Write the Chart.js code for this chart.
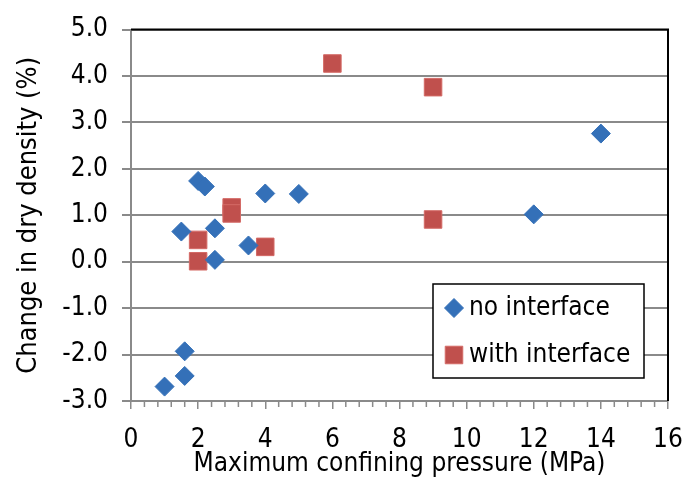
<!DOCTYPE html>
<html>
<head>
<meta charset="utf-8">
<script src="https://cdn.jsdelivr.net/npm/chart.js@4"></script>
<style>
  html, body { margin: 0; padding: 0; background: #fff; }
  #wrap { width: 699px; height: 480px; }
</style>
</head>
<body>
<div id="wrap"><canvas id="densityChart"></canvas></div>
<script>
// ---------------- DATA ----------------
const seriesNames = ["no interface", "with interface"];

const noInterfaceX = [1, 1.6, 1.6, 1.5, 2, 2.2, 2.5, 2.5, 3.5, 4, 5, 12, 14];
const noInterfaceY = [-2.69, -2.46, -1.93, 0.65, 1.74, 1.62, 0.72, 0.04, 0.35, 1.47, 1.46, 1.02, 2.76];

const withInterfaceX = [2, 2, 3, 3, 4, 6, 9, 9];
const withInterfaceY = [0.47, 0.01, 1.17, 1.04, 0.32, 4.27, 3.76, 0.91];

const xTicks = [0, 2, 4, 6, 8, 10, 12, 14, 16];
const yTicks = [-3, -2, -1, 0, 1, 2, 3, 4, 5];

const FONT = "'DejaVu Sans Condensed', 'DejaVu Sans', sans-serif";
const GRID = "#8a8a8a";

function toPoints(xs, ys) {
    return xs.map((x, i) => ({ x: x, y: ys[i] }));
}

// ---------------- FRAME, MINOR TICKS, LEGEND ----------------
const framePlugin = {
    id: "frame",
    afterDraw(chart) {
        const ctx = chart.ctx;
        const a = chart.chartArea;
        const xs = chart.scales.x;

        // minor ticks on x axis every 0.4
        ctx.save();
        ctx.strokeStyle = GRID;
        ctx.lineWidth = 1.5;
        for (let i = 0; i <= 40; i++) {
            if (i % 5 === 0) continue;
            const px = xs.getPixelForValue(i * 0.4);
            ctx.beginPath();
            ctx.moveTo(px, a.bottom);
            ctx.lineTo(px, a.bottom + 6);
            ctx.stroke();
        }

        // black top and right border
        ctx.strokeStyle = "#000";
        ctx.lineWidth = 2;
        ctx.beginPath();
        ctx.moveTo(a.left, a.top);
        ctx.lineTo(a.right, a.top);
        ctx.lineTo(a.right, a.bottom);
        ctx.stroke();

        // legend box
        const bx = a.right - 235, by = a.bottom - 117, bw = 211, bh = 94;
        ctx.fillStyle = "#fff";
        ctx.fillRect(bx, by, bw, bh);
        ctx.strokeStyle = "#000";
        ctx.lineWidth = 1.5;
        ctx.strokeRect(bx, by, bw, bh);

        ctx.font = "26px " + FONT;
        ctx.textBaseline = "middle";
        chart.data.datasets.forEach((ds, i) => {
            const cy = by + 24 + i * 47;
            ctx.fillStyle = ds.backgroundColor;
            ctx.strokeStyle = ds.borderColor;
            ctx.lineWidth = 1;
            Chart.helpers.drawPoint(ctx, {
                pointStyle: ds.pointStyle,
                radius: ds.pointRadius,
                borderWidth: 1,
                rotation: 0
            }, bx + 21, cy);
            ctx.fillStyle = "#000";
            ctx.fillText(ds.label, bx + 36, cy);
        });
        ctx.restore();
    }
};

// ---------------- DRAW CHART ----------------
new Chart(document.getElementById("densityChart"), {
    type: "scatter",
    data: {
        datasets: [
            {
                label: seriesNames[0],
                data: toPoints(noInterfaceX, noInterfaceY),
                pointStyle: "rectRot",
                pointRadius: 9.5,
                backgroundColor: "#3470b8",
                borderColor: "#3470b8",
                borderWidth: 1
            },
            {
                label: seriesNames[1],
                data: toPoints(withInterfaceX, withInterfaceY),
                pointStyle: "rect",
                pointRadius: 12.4,
                backgroundColor: "#c0504d",
                borderColor: "#d46a66",
                borderWidth: 1
            }
        ]
    },
    options: {
        responsive: true,
        maintainAspectRatio: false,
        animation: false,
        events: [],
        layout: { padding: { top: 27, right: 31, left: 0, bottom: 0 } },
        plugins: {
            legend: { display: false },
            tooltip: { enabled: false }
        },
        scales: {
            x: {
                type: "linear",
                min: xTicks[0],
                max: xTicks[xTicks.length - 1],
                afterBuildTicks: s => { s.ticks = xTicks.map(v => ({ value: v })); },
                afterFit: s => { s.height = 79; },
                ticks: {
                    color: "#000",
                    font: { family: FONT, size: 26 },
                    padding: 16,
                    maxRotation: 0,
                    autoSkip: false
                },
                grid: {
                    drawOnChartArea: false,
                    drawTicks: true,
                    tickLength: 8,
                    color: GRID,
                    lineWidth: 1.5
                },
                border: { color: GRID, width: 2 },
                title: {
                    display: true,
                    text: "Maximum confining pressure (MPa)",
                    color: "#000",
                    font: { family: FONT, size: 26 },
                    padding: { top: 0, bottom: 0 }
                }
            },
            y: {
                type: "linear",
                min: yTicks[0],
                max: yTicks[yTicks.length - 1],
                afterBuildTicks: s => { s.ticks = yTicks.map(v => ({ value: v })); },
                afterFit: s => { s.width = 131; },
                ticks: {
                    color: "#000",
                    font: { family: FONT, size: 26 },
                    padding: 14,
                    callback: v => v.toFixed(1)
                },
                grid: {
                    drawTicks: true,
                    tickLength: 9,
                    color: GRID,
                    lineWidth: 2
                },
                border: { color: GRID, width: 2 },
                title: {
                    display: true,
                    text: "Change in dry density (%)",
                    color: "#000",
                    font: { family: FONT, size: 27 },
                    padding: { top: 13, bottom: 0 }
                }
            }
        }
    },
    plugins: [framePlugin]
});
</script>
</body>
</html>
